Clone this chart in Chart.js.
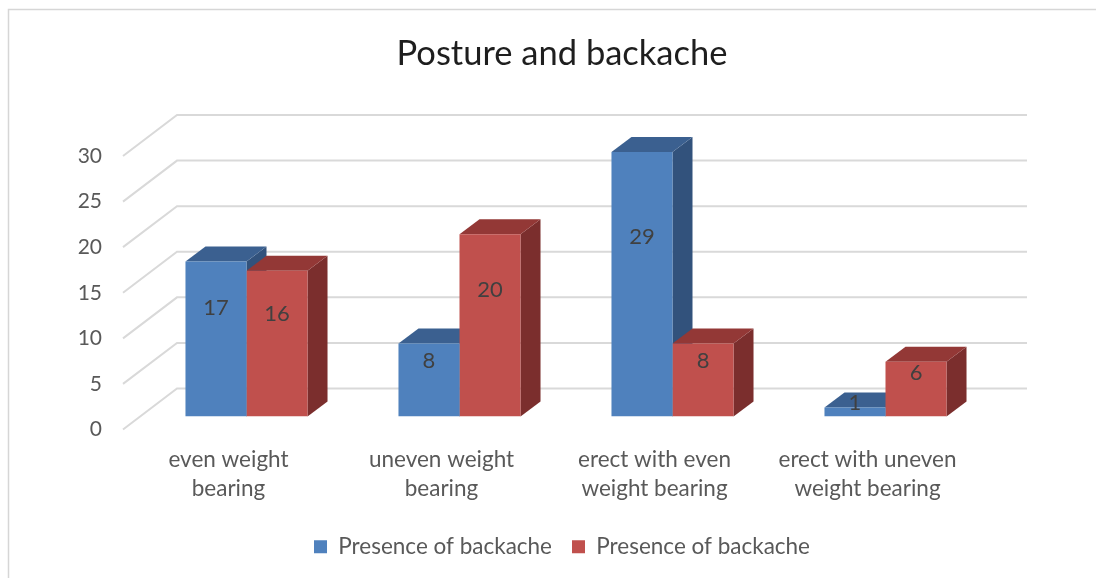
<!DOCTYPE html>
<html>
<head>
<meta charset="utf-8">
<script src="https://cdn.jsdelivr.net/npm/chart.js@4/dist/chart.umd.min.js"></script>
<style>
  html, body { margin: 0; padding: 0; background: #ffffff; }
  #wrap { width: 1096px; height: 578px; position: relative; }
</style>
</head>
<body>
<div id="wrap"><canvas id="c" width="1096" height="578"></canvas></div>
<script>
// ---- data ----
const chartTitle = 'Posture and backache';
const categories = [
  ['even weight', 'bearing'],
  ['uneven weight', 'bearing'],
  ['erect with even', 'weight bearing'],
  ['erect with uneven', 'weight bearing']
];
const seriesNames = ['Presence of backache', 'Presence of backache'];
const seriesA = [17, 8, 29, 1];
const seriesB = [16, 20, 8, 6];
const yTicks = { min: 0, max: 30, step: 5 };

// ---- styles ----
const FONT = 'Lato, "Noto Sans", sans-serif';
const faceColors = [
  { front: '#4F81BD', top: '#3B6090', side: '#32527C' },
  { front: '#C0504D', top: '#933836', side: '#7B2E2D' }
];
const barDepth = { dx: 20, dy: -15 };
const wall = { backDx: 37, backDy: -28, frontDx: -17, frontDy: 13, rightDx: 35 };

const framePlugin = {
  id: 'frame',
  beforeDraw(chart) {
    const ctx = chart.ctx;
    ctx.save();
    ctx.strokeStyle = '#D6D6D6';
    ctx.lineWidth = 1.5;
    ctx.beginPath();
    ctx.moveTo(8.5, 600);
    ctx.lineTo(8.5, 9.5);
    ctx.lineTo(1200, 9.5);
    ctx.stroke();
    ctx.restore();
  }
};

const grid3dPlugin = {
  id: 'grid3d',
  beforeDatasetsDraw(chart) {
    const ctx = chart.ctx;
    const ys = chart.scales.y;
    const { left, right } = chart.chartArea;
    ctx.save();
    ctx.strokeStyle = '#D9D9D9';
    ctx.lineWidth = 2;
    ys.ticks.forEach(t => {
      const p = ys.getPixelForValue(t.value);
      ctx.beginPath();
      ctx.moveTo(left + wall.frontDx, p + wall.frontDy);
      ctx.lineTo(left + wall.backDx, p + wall.backDy);
      ctx.lineTo(right + wall.rightDx, p + wall.backDy);
      ctx.stroke();
    });
    // side and top faces of the bars
    chart.data.datasets.forEach((ds, i) => {
      const meta = chart.getDatasetMeta(i);
      const col = faceColors[i];
      meta.data.forEach(bar => {
        const { x, y, base, width } = bar.getProps(['x', 'y', 'base', 'width'], true);
        const l = x - width / 2, r = x + width / 2;
        const dx = barDepth.dx, dy = barDepth.dy;
        ctx.fillStyle = col.side;
        ctx.beginPath();
        ctx.moveTo(r, y);
        ctx.lineTo(r + dx, y + dy);
        ctx.lineTo(r + dx, base + dy);
        ctx.lineTo(r, base);
        ctx.closePath();
        ctx.fill();
        ctx.fillStyle = col.top;
        ctx.beginPath();
        ctx.moveTo(l, y);
        ctx.lineTo(l + dx, y + dy);
        ctx.lineTo(r + dx, y + dy);
        ctx.lineTo(r, y);
        ctx.closePath();
        ctx.fill();
      });
    });
    ctx.restore();
  }
};

const valueLabelPlugin = {
  id: 'valueLabels',
  afterDatasetsDraw(chart) {
    const ctx = chart.ctx;
    ctx.save();
    ctx.fillStyle = '#404040';
    ctx.font = '22px ' + FONT;
    ctx.textAlign = 'center';
    ctx.textBaseline = 'middle';
    chart.data.datasets.forEach((ds, i) => {
      const meta = chart.getDatasetMeta(i);
      meta.data.forEach((bar, j) => {
        const { x, y, base } = bar.getProps(['x', 'y', 'base'], true);
        const h = base - y;
        ctx.fillText(String(ds.data[j]), x, y + 0.35 * h - 8);
      });
    });
    ctx.restore();
  }
};

new Chart(document.getElementById('c'), {
  type: 'bar',
  data: {
    labels: categories,
    datasets: [
      { label: seriesNames[0], data: seriesA, backgroundColor: faceColors[0].front, borderWidth: 0 },
      { label: seriesNames[1], data: seriesB, backgroundColor: faceColors[1].front, borderWidth: 0 }
    ]
  },
  options: {
    responsive: false,
    animation: false,
    layout: { padding: { left: 28, right: 0, top: 0, bottom: 10 } },
    datasets: { bar: { categoryPercentage: 0.573, barPercentage: 1 } },
    plugins: {
      title: {
        display: true,
        text: chartTitle,
        color: '#1E1E1E',
        font: { family: FONT, size: 34.5, weight: 'normal', lineHeight: 1.2 },
        padding: { top: 33, bottom: 68.6 }
      },
      legend: {
        position: 'bottom',
        labels: {
          color: '#595959',
          font: { family: FONT, size: 22.5 },
          boxWidth: 13,
          boxHeight: 13,
          padding: 20
        }
      },
      tooltip: { enabled: false }
    },
    scales: {
      x: {
        grid: { display: false, drawTicks: false },
        border: { display: false },
        ticks: {
          color: '#595959',
          font: { family: FONT, size: 22.5, lineHeight: '29px' },
          padding: 29,
          labelOffset: -18,
          maxRotation: 0,
          autoSkip: false
        },
        afterFit(s) { s.height = 99; }
      },
      y: {
        min: yTicks.min,
        max: yTicks.max,
        grid: { display: false, drawTicks: false },
        border: { display: false },
        ticks: {
          stepSize: yTicks.step,
          color: '#595959',
          font: { family: FONT, size: 21 },
          padding: 38,
          labelOffset: 13
        },
        afterFit(s) { s.width = 112; }
      },
      y2: {
        type: 'linear',
        position: 'right',
        display: true,
        grid: { display: false, drawTicks: false },
        border: { display: false },
        ticks: { display: false },
        afterFit(s) { s.width = 104; }
      }
    }
  },
  plugins: [framePlugin, grid3dPlugin, valueLabelPlugin]
});
</script>
</body>
</html>
